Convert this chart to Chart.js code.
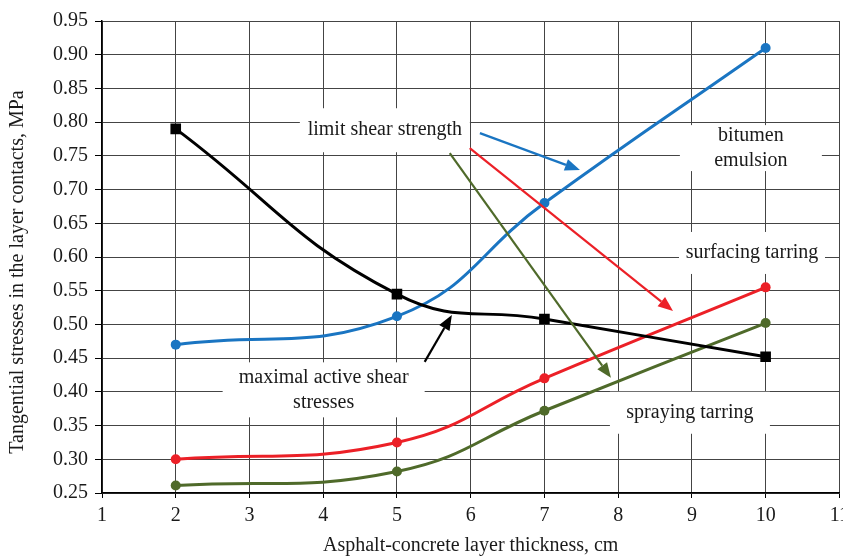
<!DOCTYPE html>
<html>
<head>
<meta charset="utf-8">
<script src="https://cdn.jsdelivr.net/npm/chart.js@4/dist/chart.umd.min.js"></script>
<style>
  html, body { margin: 0; padding: 0; background: #fff; overflow: hidden; }
  #wrap { width: 843px; height: 560px; overflow: hidden; position: relative; }
  canvas { display: block; }
</style>
</head>
<body>
<div id="wrap"><canvas id="c" width="855" height="560"></canvas></div>
<script>
// ---- data ----
const thickness = [2, 5, 7, 10];
const maxActiveShear   = [0.790, 0.545, 0.508, 0.452];
const bitumenEmulsion  = [0.470, 0.512, 0.680, 0.910];
const surfacingTarring = [0.300, 0.325, 0.420, 0.555];
const sprayingTarring  = [0.261, 0.282, 0.372, 0.502];

const xTicks = [1, 2, 3, 4, 5, 6, 7, 8, 9, 10, 11];
const yTickLabels = ['0.25','0.30','0.35','0.40','0.45','0.50','0.55','0.60','0.65','0.70','0.75','0.80','0.85','0.90','0.95'];

const xTitle = 'Asphalt-concrete layer thickness, cm';
const yTitle = 'Tangential stresses in the layer contacts, MPa';

// annotation labels (centre in data units)
const noteLabels = [
  { lines: ['limit shear strength'], x: 4.836, y: 0.788, w: 170, h: 44 },
  { lines: ['bitumen', 'emulsion'], x: 9.80, y: 0.7615, w: 142, h: 46 },
  { lines: ['surfacing tarring'], x: 9.815, y: 0.606, w: 146, h: 42 },
  { lines: ['spraying tarring'], x: 8.973, y: 0.369, w: 160, h: 42 },
  { lines: ['maximal active shear', 'stresses'], x: 4.006, y: 0.403, w: 202, h: 55 }
];
// arrows from labels to curves (data units)
const noteArrows = [
  { from: [6.125, 0.7837], to: [7.482, 0.7289], color: '#1a75c2' },
  { from: [5.987, 0.7615], to: [8.744, 0.520], color: '#ec2027' },
  { from: [5.716, 0.754], to: [7.902, 0.4208], color: '#4f6a2a' },
  { from: [5.376, 0.4445], to: [5.745, 0.514], color: '#000000' }
];

const toPts = (arr) => arr.map((v, i) => ({ x: thickness[i], y: v }));

const FONT = '"Liberation Serif", "Times New Roman", serif';

const notesPlugin = {
  id: 'notes',
  beforeDatasetsDraw(chart) {
    const { ctx, scales: { x, y } } = chart;
    ctx.save();
    ctx.fillStyle = '#ffffff';
    noteLabels.forEach(n => {
      const cx = x.getPixelForValue(n.x), cy = y.getPixelForValue(n.y);
      ctx.fillRect(cx - n.w / 2, cy - n.h / 2, n.w, n.h);
    });
    ctx.restore();
  },
  afterDatasetsDraw(chart) {
    const { ctx, scales: { x, y } } = chart;
    ctx.save();
    ctx.font = '20px ' + FONT;
    ctx.fillStyle = '#1a1a1a';
    ctx.textAlign = 'center';
    ctx.textBaseline = 'middle';
    noteLabels.forEach(n => {
      const cx = x.getPixelForValue(n.x), cy = y.getPixelForValue(n.y);
      const lh = 25;
      const start = cy - (n.lines.length - 1) * lh / 2;
      n.lines.forEach((t, i) => ctx.fillText(t, cx, start + i * lh));
    });
    noteArrows.forEach(a => {
      const x1 = x.getPixelForValue(a.from[0]), y1 = y.getPixelForValue(a.from[1]);
      const x2 = x.getPixelForValue(a.to[0]), y2 = y.getPixelForValue(a.to[1]);
      const ang = Math.atan2(y2 - y1, x2 - x1);
      const hl = 15, hw = 6;
      const bx = x2 - hl * Math.cos(ang), by = y2 - hl * Math.sin(ang);
      ctx.strokeStyle = a.color;
      ctx.fillStyle = a.color;
      ctx.lineWidth = 2.2;
      ctx.beginPath();
      ctx.moveTo(x1, y1);
      ctx.lineTo(bx, by);
      ctx.stroke();
      ctx.beginPath();
      ctx.moveTo(x2, y2);
      ctx.lineTo(bx + hw * Math.sin(ang), by - hw * Math.cos(ang));
      ctx.lineTo(bx - hw * Math.sin(ang), by + hw * Math.cos(ang));
      ctx.closePath();
      ctx.fill();
    });
    ctx.font = '20px ' + FONT;
    ctx.fillStyle = '#1a1a1a';
    ctx.translate(18, 272);
    ctx.rotate(-Math.PI / 2);
    ctx.textAlign = 'center';
    ctx.textBaseline = 'middle';
    ctx.fillText(yTitle, 0, 0);
    ctx.restore();
  }
};

const lineDs = (label, data, color, style, radius) => ({
  label,
  data: toPts(data),
  borderColor: color,
  backgroundColor: color,
  borderWidth: 3,
  pointStyle: style,
  pointRadius: radius,
  pointHoverRadius: radius,
  pointBorderWidth: 0,
  tension: 0.45,
  fill: false
});

new Chart(document.getElementById('c'), {
  type: 'line',
  data: {
    datasets: [
      lineDs('maximal active shear stresses', maxActiveShear, '#000000', 'rect', 7.5),
      lineDs('bitumen emulsion', bitumenEmulsion, '#1a75c2', 'circle', 5),
      lineDs('surfacing tarring', surfacingTarring, '#ec2027', 'circle', 5),
      lineDs('spraying tarring', sprayingTarring, '#4f6a2a', 'circle', 5)
    ]
  },
  options: {
    responsive: false,
    animation: false,
    events: [],
    layout: { padding: { top: 21, left: 0, right: 0, bottom: 0 } },
    plugins: { legend: { display: false }, tooltip: { enabled: false } },
    scales: {
      x: {
        type: 'linear',
        min: 1, max: 11,
        afterBuildTicks: (s) => { s.ticks = xTicks.map(v => ({ value: v })); },
        afterFit: (s) => { s.height = 67; },
        ticks: {
          font: { family: FONT, size: 20 },
          color: '#1a1a1a',
          padding: 6,
          maxRotation: 0,
          autoSkip: false,
          callback: (v) => String(v)
        },
        grid: { color: '#444', lineWidth: 1, tickLength: 5, tickColor: '#000' },
        border: { color: '#000', width: 1.5 },
        title: {
          display: true, text: xTitle,
          font: { family: FONT, size: 20 }, color: '#1a1a1a',
          padding: { top: 0, bottom: 2 }
        }
      },
      y: {
        type: 'linear',
        min: 0.25, max: 0.95,
        afterBuildTicks: (s) => { s.ticks = yTickLabels.map(t => ({ value: parseFloat(t) })); },
        afterFit: (s) => { s.width = 102; },
        ticks: {
          font: { family: FONT, size: 20 },
          color: '#1a1a1a',
          padding: 7,
          autoSkip: false,
          callback: (v) => yTickLabels.find(t => Math.abs(parseFloat(t) - v) < 1e-6) || ''
        },
        grid: { color: '#444', lineWidth: 1, tickLength: 7, tickColor: '#000' },
        border: { color: '#000', width: 1.5 }
      }
    }
  },
  plugins: [notesPlugin]
});
</script>
</body>
</html>
